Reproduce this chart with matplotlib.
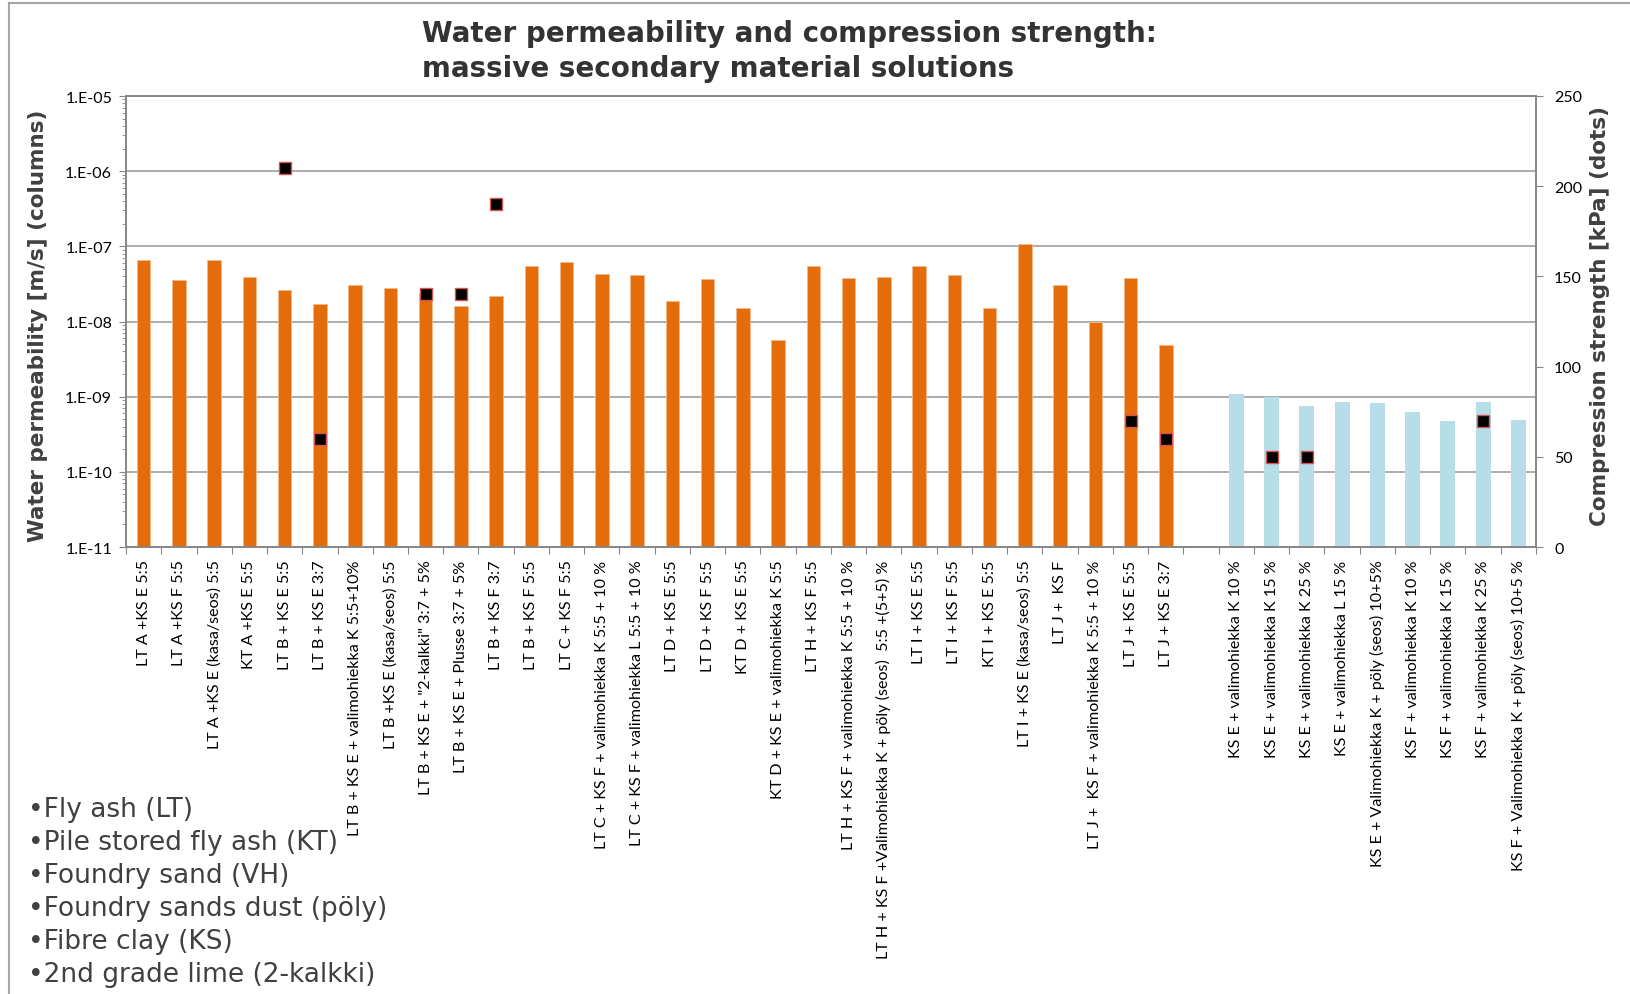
import numpy as np
import matplotlib
matplotlib.use('Agg')
import matplotlib.pyplot as plt
from matplotlib.lines import Line2D
from matplotlib.ticker import FixedLocator, FuncFormatter, LogLocator, NullFormatter

# mixtures with fly ash (orange columns)
ash_labels = [
    'LT A +KS E 5:5',
    'LT A +KS F 5:5',
    'LT A +KS E (kasa/seos) 5:5',
    'KT A +KS E 5:5',
    'LT B + KS E 5:5',
    'LT B + KS E 3:7',
    'LT B + KS E + valimohiekka K 5:5+10%',
    'LT B +KS E (kasa/seos) 5:5',
    'LT B + KS E + "2-kalkki" 3:7 + 5%',
    'LT B + KS E + Plusse 3:7 + 5%',
    'LT B + KS F 3:7',
    'LT B + KS F 5:5',
    'LT C + KS F 5:5',
    'LT C + KS F + valimohiekka K 5:5 + 10 %',
    'LT C + KS F + valimohiekka L 5:5 + 10 %',
    'LT D + KS E 5:5',
    'LT D + KS F 5:5',
    'KT D + KS E 5:5',
    'KT D + KS E + valimohiekka K 5:5',
    'LT H + KS F 5:5',
    'LT H + KS F + valimohiekka K 5:5 + 10 %',
    'LT H + KS F +Valimohiekka K + pöly (seos)  5:5 +(5+5) %',
    'LT I + KS E 5:5',
    'LT I + KS F 5:5',
    'KT I + KS E 5:5',
    'LT I + KS E (kasa/seos) 5:5',
    'LT J +  KS F',
    'LT J +  KS F + valimohiekka K 5:5 + 10 %',
    'LT J + KS E 5:5',
    'LT J + KS E 3:7',
]
ash_perm = [6.5e-8, 3.6e-8, 6.6e-8, 3.9e-8, 2.6e-8, 1.7e-8, 3.1e-8, 2.8e-8,
            2.4e-8, 1.6e-8, 2.2e-8, 5.4e-8, 6.1e-8, 4.3e-8, 4.1e-8, 1.9e-8,
            3.7e-8, 1.5e-8, 5.6e-9, 5.4e-8, 3.8e-8, 3.9e-8, 5.5e-8, 4.2e-8,
            1.5e-8, 1.08e-7, 3.1e-8, 9.9e-9, 3.8e-8, 4.85e-9]
ash_strength = [None, None, None, None, 210, 60, None, None, 140, 140,
                190, None, None, None, None, None, None, None, None, None,
                None, None, None, None, None, None, None, None, 70, 60]

# fibre clay without ash (light blue columns)
clay_labels = [
    'KS E + valimohiekka K 10 %',
    'KS E + valimohiekka K 15 %',
    'KS E + valimohiekka K 25 %',
    'KS E + valimohiekka L 15 %',
    'KS E + Valimohiekka K + pöly (seos) 10+5%',
    'KS F + valimohiekka K 10 %',
    'KS F + valimohiekka K 15 %',
    'KS F + valimohiekka K 25 %',
    'KS F + Valimohiekka K + pöly (seos) 10+5 %',
]
clay_perm = [1.08e-9, 1.0e-9, 7.5e-10, 8.5e-10, 8.2e-10, 6.3e-10, 4.75e-10,
             8.5e-10, 4.9e-10]
clay_strength = [None, 50, 50, None, None, None, None, 70, None]

bullets = ['Fly ash (LT)', 'Pile stored fly ash (KT)', 'Foundry sand (VH)',
           'Foundry sands dust (pöly)', 'Fibre clay (KS)',
           '2nd grade lime (2-kalkki)']

W, H = 1631, 995
fig = plt.figure(figsize=(W / 100, H / 100), dpi=100)
ax = fig.add_axes([126 / W, 1 - 548 / H, (1536 - 126) / W, (548 - 97) / H])

n_ash = len(ash_labels)
x_ash = np.arange(n_ash)
x_clay = np.arange(len(clay_labels)) + n_ash + 1
labels = ash_labels + [''] + clay_labels
n = len(labels)

ymin = 1e-11
ax.set_yscale('log')
ax.bar(x_ash, np.array(ash_perm) - ymin, bottom=ymin, width=0.38,
       color='#E46C0A', edgecolor='#F5B88A', linewidth=0.6, zorder=2)
ax.bar(x_clay, np.array(clay_perm) - ymin, bottom=ymin, width=0.42,
       color='#B7DDE8', linewidth=0, zorder=2)
ax.set_ylim(ymin, 1e-5)
ax.set_xlim(-0.5, n - 0.5)

ax.yaxis.set_major_locator(LogLocator(base=10, numticks=10))
ax.yaxis.set_minor_locator(LogLocator(base=10, subs=np.arange(2, 10), numticks=20))
ax.yaxis.set_minor_formatter(NullFormatter())
ax.yaxis.set_major_formatter(FuncFormatter(lambda v, p: '1.E-%02d' % round(-np.log10(v))))
ax.grid(axis='y', which='major', color='#A6A6A6', linewidth=1.3, zorder=0)

ax.xaxis.set_major_locator(FixedLocator(np.arange(-0.5, n, 1)))
ax.xaxis.set_major_formatter(NullFormatter())
ax.set_xticks(np.arange(n), minor=True)
ax.set_xticklabels(labels, minor=True, rotation=90, va='top', ha='center',
                   fontsize=11.6, family='Lato')
ax.tick_params(axis='x', which='minor', length=0, pad=9)
ax.tick_params(axis='x', which='major', length=5, color='#868686')
ax.tick_params(axis='y', which='major', length=5, color='#868686',
               labelsize=11.5, pad=5)
ax.tick_params(axis='y', which='minor', length=3, color='#868686')
for lab in ax.get_yticklabels():
    lab.set_family('Lato')
for s in ax.spines.values():
    s.set_color('#868686')
    s.set_linewidth(1.2)

ax.set_ylabel('Water permeability [m/s] (columns)', fontsize=15.5,
              fontweight='bold', color='#404040')
ax.yaxis.set_label_coords((48 - 126) / 1410, 0.492)

ax2 = ax.twinx()
ax2.set_ylim(0, 250)
ax2.set_yticks(np.arange(0, 251, 50))
ax2.tick_params(axis='y', length=5, color='#868686', labelsize=11.5, pad=8)
for lab in ax2.get_yticklabels():
    lab.set_family('Lato')
for s in ax2.spines.values():
    s.set_color('#868686')
    s.set_linewidth(1.2)
strength = [np.nan if v is None else v for v in ash_strength + [None] + clay_strength]
ax2.plot(np.arange(n), strength, 's', ms=9, mfc='black', mec='#D9534F',
         mew=1, ls='none', zorder=3)
ax2.set_ylabel('Compression strength [kPa] (dots)', fontsize=15.5,
               fontweight='bold', color='#404040')
ax2.yaxis.set_label_coords((1590 - 126) / 1410, 0.514)

fig.text(422 / W, 1 - 20 / H,
         'Water permeability and compression strength:\nmassive secondary material solutions',
         ha='left', va='top', fontsize=20, fontweight='bold', color='#333333',
         linespacing=1.3)

for i, b in enumerate(bullets):
    fig.text(28 / W, 1 - (810 + 33 * i) / H, '\u2022' + b, ha='left',
             va='center', fontsize=19, color='#404040')

fig.add_artist(Line2D([9 / W, 1], [1 - 4 / H, 1 - 4 / H], color='#A6A6A6',
                      linewidth=1.5, transform=fig.transFigure))
fig.add_artist(Line2D([9 / W, 9 / W], [0, 1 - 4 / H], color='#A6A6A6',
                      linewidth=1.5, transform=fig.transFigure))

fig.savefig('out.png', dpi=100)
